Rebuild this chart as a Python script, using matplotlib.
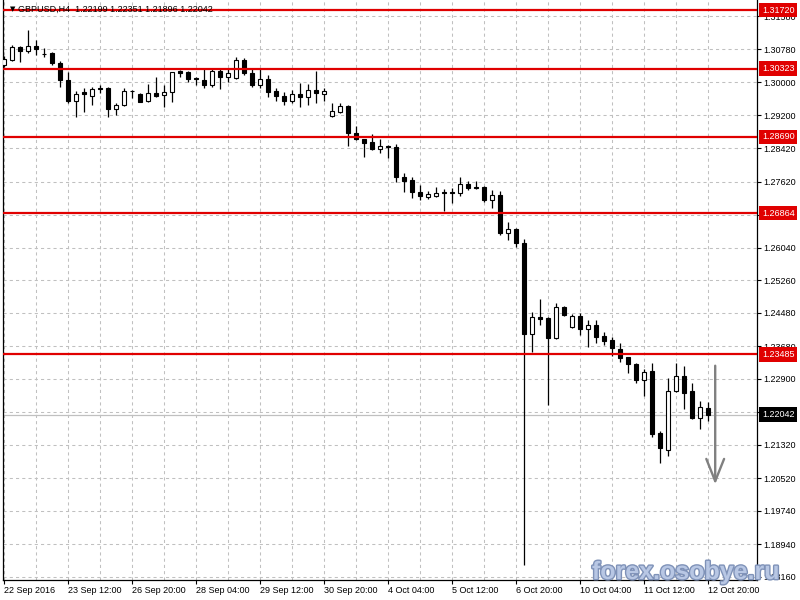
import matplotlib
matplotlib.use("Agg")
import matplotlib.pyplot as plt
import matplotlib.patheffects as pe

plt.rcParams['font.family'] = ['Liberation Sans', 'DejaVu Sans']

# GBPUSD H4, bougies (22 Sep - 12 Oct 2016)
opens = [1.3041, 1.3053, 1.3083, 1.3075, 1.3086, 1.3068, 1.3069, 1.3045, 1.3005, 1.2955,
         1.2975, 1.2967, 1.2986, 1.2986, 1.2935, 1.2944, 1.2979, 1.2971, 1.2955, 1.2973,
         1.2968, 1.2975, 1.3027, 1.3025, 1.3009, 1.3005, 1.2994, 1.3027, 1.3011, 1.3009,
         1.3053, 1.3021, 1.2994, 1.3007, 1.2979, 1.2967, 1.2955, 1.2971, 1.2964, 1.2981,
         1.2971, 1.2919, 1.2929, 1.2943, 1.2877, 1.2863, 1.2856, 1.2839, 1.2847, 1.2844,
         1.2772, 1.2766, 1.2736, 1.2724, 1.2728, 1.2736, 1.2736, 1.2735, 1.2756, 1.2748,
         1.2748, 1.2719, 1.2730, 1.2638, 1.2648, 1.2614, 1.2397, 1.2439, 1.2435, 1.2387,
         1.2461, 1.2413, 1.2440, 1.2408, 1.2419, 1.2392, 1.2383, 1.2361, 1.2342, 1.2325,
         1.2286, 1.2309, 1.2160, 1.2120, 1.2262, 1.2297, 1.2261, 1.2196, 1.22199]
highs = [1.3062, 1.3089, 1.3086, 1.3125, 1.3101, 1.3081, 1.3073, 1.3050, 1.3025, 1.2979,
         1.2985, 1.2989, 1.2993, 1.2989, 1.2951, 1.2986, 1.2980, 1.2973, 1.2995, 1.3013,
         1.2993, 1.3025, 1.3029, 1.3027, 1.3011, 1.3033, 1.3033, 1.3033, 1.3033, 1.3061,
         1.3057, 1.3033, 1.3033, 1.3017, 1.2985, 1.2975, 1.2981, 1.2997, 1.2995, 1.3026,
         1.2985, 1.2949, 1.2949, 1.2945, 1.2895, 1.2864, 1.2876, 1.2863, 1.2849, 1.2852,
         1.2783, 1.2774, 1.2754, 1.2740, 1.2748, 1.2743, 1.2746, 1.2772, 1.2763, 1.2764,
         1.2751, 1.2742, 1.2740, 1.2666, 1.2650, 1.2624, 1.2449, 1.2481, 1.2439, 1.2471,
         1.2464, 1.2445, 1.2448, 1.2431, 1.2431, 1.2403, 1.2391, 1.2375, 1.2343, 1.2327,
         1.2313, 1.2329, 1.2164, 1.2291, 1.2327, 1.2321, 1.2279, 1.2237, 1.22351]
lows = [1.3036, 1.3051, 1.3049, 1.3069, 1.3065, 1.3061, 1.3041, 1.2989, 1.2951, 1.2917,
        1.2929, 1.2945, 1.2973, 1.2917, 1.2921, 1.2943, 1.2961, 1.2952, 1.2952, 1.2965,
        1.2940, 1.2953, 1.3011, 1.3001, 1.2993, 1.2985, 1.2987, 1.2983, 1.3001, 1.3007,
        1.3017, 1.2989, 1.2985, 1.2965, 1.2955, 1.2945, 1.2951, 1.2940, 1.2945, 1.2951,
        1.2955, 1.2916, 1.2925, 1.2847, 1.2861, 1.2820, 1.2837, 1.2830, 1.2818, 1.2762,
        1.2738, 1.2722, 1.2719, 1.2720, 1.2724, 1.2692, 1.2711, 1.2727, 1.2742, 1.2745,
        1.2714, 1.2698, 1.2634, 1.2622, 1.2605, 1.1845, 1.2353, 1.2419, 1.2227, 1.2385,
        1.2440, 1.2411, 1.2395, 1.2367, 1.2376, 1.2371, 1.2345, 1.2331, 1.2303, 1.2279,
        1.2249, 1.2152, 1.2089, 1.2105, 1.2259, 1.2219, 1.2194, 1.2169, 1.21896]
closes = [1.3054, 1.3083, 1.3075, 1.3086, 1.3078, 1.3066, 1.3045, 1.3005, 1.2955, 1.2971,
          1.2971, 1.2983, 1.2983, 1.2935, 1.2944, 1.2979, 1.2978, 1.2953, 1.2973, 1.2967,
          1.2976, 1.3023, 1.3022, 1.3008, 1.3008, 1.2994, 1.3027, 1.3011, 1.3021, 1.3053,
          1.3021, 1.2994, 1.3007, 1.2977, 1.2967, 1.2955, 1.2971, 1.2964, 1.2981, 1.2973,
          1.2979, 1.2931, 1.2943, 1.2877, 1.2863, 1.2855, 1.2839, 1.2847, 1.2844, 1.2772,
          1.2764, 1.2738, 1.2727, 1.2732, 1.2734, 1.2734, 1.2735, 1.2755, 1.2747, 1.2746,
          1.2719, 1.2730, 1.2638, 1.2648, 1.2616, 1.2397, 1.2437, 1.2434, 1.2387, 1.2461,
          1.2443, 1.2440, 1.2408, 1.2419, 1.2391, 1.2381, 1.2363, 1.2339, 1.2325, 1.2286,
          1.2307, 1.2158, 1.2124, 1.2262, 1.2297, 1.2257, 1.2197, 1.2222, 1.22042]

time_labels = ["22 Sep 2016", "23 Sep 12:00", "26 Sep 20:00", "28 Sep 04:00",
               "29 Sep 12:00", "30 Sep 20:00", "4 Oct 04:00", "5 Oct 12:00",
               "6 Oct 20:00", "10 Oct 04:00", "11 Oct 12:00", "12 Oct 20:00"]

price_ticks = [1.31580, 1.30780, 1.30000, 1.29200, 1.28420, 1.27620, 1.26820, 1.26040,
               1.25260, 1.24480, 1.23680, 1.22900, 1.22100, 1.21320, 1.20520, 1.19740,
               1.18940, 1.18160]
hidden_ticks = [1.26820, 1.22100]   # sous les étiquettes

levels = [1.31720, 1.30323, 1.28690, 1.26864, 1.23485]
last_price = 1.22042
header = "GBPUSD,H4  1.22199 1.22351 1.21896 1.22042"

# flèche (position en indice de bougie / prix)
arrow_x = 88.9
arrow_top = 1.2328
arrow_tip = 1.2031

fig = plt.figure(figsize=(8, 6), dpi=100)
ax = fig.add_axes([3/800, 20/600, 754/800, 580/600])

n = len(opens)
for i in range(n):
    o, h, l, c = opens[i], highs[i], lows[i], closes[i]
    ax.vlines(i, l, h, color='black', lw=0.9, zorder=2)
    bull = c >= o
    ax.bar(i, max(abs(c - o), 0.00003), bottom=min(o, c), width=0.62,
           color='white' if bull else 'black', edgecolor='black', lw=0.8, zorder=3)

for lv in levels:
    ax.axhline(lv, color='#e00000', lw=1.6, zorder=5)
    ax.text(1.0066, lv, f"{lv:.5f}", transform=ax.get_yaxis_transform(),
            ha='left', va='center', color='white', fontsize=6.5, zorder=10,
            clip_on=False, bbox=dict(boxstyle='square,pad=0.3', fc='#e00000', ec='none'))

ax.axhline(last_price, color='#c0c0c0', lw=0.9, zorder=1)
ax.text(1.0066, last_price, f"{last_price:.5f}", transform=ax.get_yaxis_transform(),
        ha='left', va='center', color='white', fontsize=6.5, zorder=10,
        clip_on=False, bbox=dict(boxstyle='square,pad=0.3', fc='black', ec='none'))

ax.annotate('', xy=(arrow_x, arrow_tip), xytext=(arrow_x, arrow_top),
            arrowprops=dict(arrowstyle='->,head_length=0.8,head_width=0.32',
                            color='#808080', lw=1.7, mutation_scale=20), zorder=6)

ax.set_xlim(-0.125, 94.125)
ax.set_ylim(1.180871, 1.319628)

# axes
ax.yaxis.tick_right()
ax.set_yticks(price_ticks)
ax.set_yticklabels(['' if t in hidden_ticks else f"{t:.5f}" for t in price_ticks])
ax.set_xticks(range(0, n, 8))
ax.set_xticklabels(time_labels, ha='left')
ax.set_xticks(range(4, n, 8), minor=True)
ax.tick_params(axis='both', which='major', labelsize=6.5, length=3, width=0.8,
               pad=1.5, colors='black', direction='out')
ax.tick_params(axis='x', which='minor', length=0)
ax.grid(True, which='both', color='#c0c0c0', linestyle=(0, (3, 3)), lw=0.75, zorder=0)
ax.set_axisbelow(True)
for s in ['left', 'right', 'bottom']:
    ax.spines[s].set_linewidth(0.9)
ax.spines['top'].set_visible(False)

ax.text(7/754, 1 - 9/580, "\u25BC", transform=ax.transAxes, fontsize=5,
        ha='left', va='center', family=['DejaVu Sans'], zorder=11)
ax.text(15/754, 1 - 9/580, header, transform=ax.transAxes, fontsize=6.5,
        ha='left', va='center', zorder=11)

fig.text(686/800, 1 - 572/600, "forex.osobye.ru", ha='center', va='center',
         fontsize=18, weight='bold', color='#b8c7e4', zorder=20,
         path_effects=[pe.withStroke(linewidth=2, foreground='#7f92b8')])

fig.savefig('out.png', dpi=100)
